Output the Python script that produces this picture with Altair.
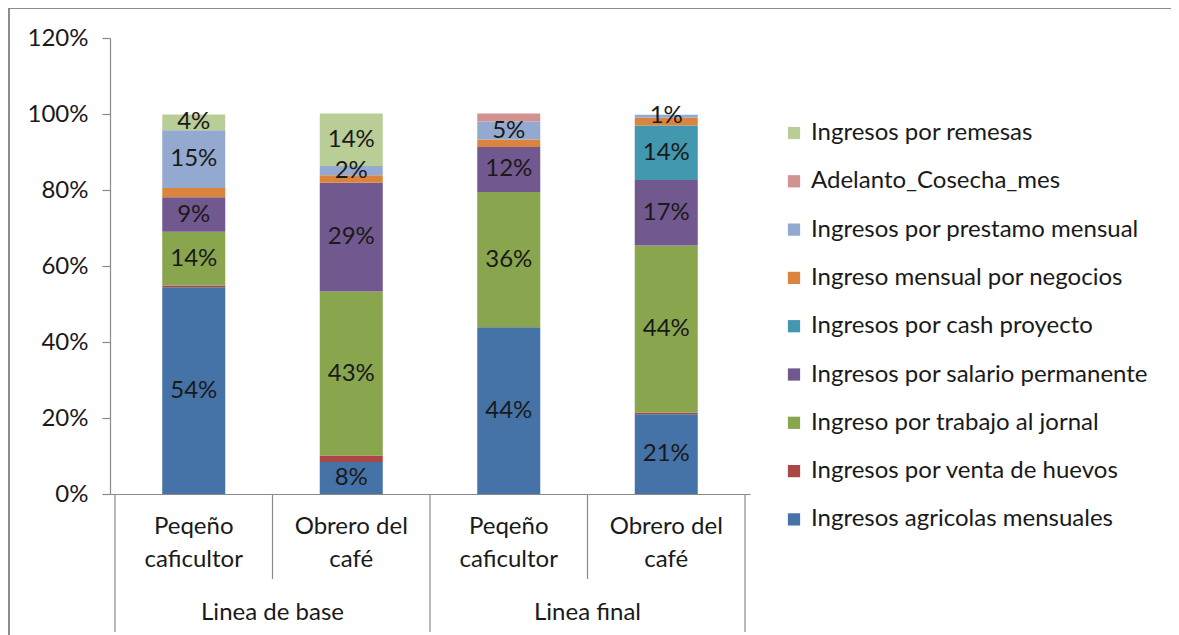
import altair as alt
import pandas as pd

series = [
    "Ingresos agricolas mensuales",
    "Ingresos por venta de huevos",
    "Ingreso por trabajo al jornal",
    "Ingresos por salario permanente",
    "Ingresos por cash proyecto",
    "Ingreso mensual por negocios",
    "Ingresos por prestamo mensual",
    "Adelanto_Cosecha_mes",
    "Ingresos por remesas",
]
colors = ["#4572A7", "#AA4643", "#89A54E", "#71588F", "#4198AF",
          "#DB843D", "#93A9CF", "#D19392", "#B9CD96"]
labeled = [True, False, True, True, True, False, True, False, True]

cat_line1 = ["Peqeño", "Obrero del", "Peqeño", "Obrero del"]
cat_line2 = ["caficultor", "café", "caficultor", "café"]
groups = ["Linea de base", "Linea final"]

# percent values per bar, bottom to top in series order
bar_pc_base = [54.4, 0.5, 14.1, 9.1, 0.0, 2.4, 15.2, 0.0, 4.2]
bar_oc_base = [8.4, 1.7, 43.2, 28.6, 0.0, 2.0, 2.4, 0.0, 13.8]
bar_pc_final = [43.9, 0.0, 35.6, 11.8, 0.0, 2.0, 4.7, 2.1, 0.0]
bar_oc_final = [21.0, 0.4, 44.0, 17.2, 14.4, 2.0, 0.8, 0.0, 0.0]

bars = [bar_pc_base, bar_oc_base, bar_pc_final, bar_oc_final]

rows = []
for b, vals in enumerate(bars):
    for i, v in enumerate(vals):
        rows.append({"pos": b + 0.5, "serie": series[i], "orden": i,
                     "v": v / 100.0, "lab": labeled[i] and v > 0})
df = pd.DataFrame(rows)

W, H = 640, 456
FONT = "Lato"
FS = 24

xscale = alt.Scale(domain=[0, 4], nice=False, zero=False)
yscale = alt.Scale(domain=[0, 1.2], nice=False)

base = alt.Chart(df).transform_stack(
    stack="v", groupby=["pos"], sort=[alt.SortField("orden")], as_=["y0", "y1"]
)

bar = base.mark_bar(width=63).encode(
    x=alt.X("pos:Q", scale=xscale,
            axis=alt.Axis(labels=False, ticks=False, title=None, grid=False,
                          domainColor="#8a8a8a", domainWidth=1.2)),
    y=alt.Y("y0:Q", scale=yscale,
            axis=alt.Axis(format="%", values=[0, 0.2, 0.4, 0.6, 0.8, 1.0, 1.2],
                          title=None, grid=False, tickSize=8, labelPadding=14,
                          labelFontSize=FS, labelFont=FONT, labelColor="#1a1a1a",
                          domainColor="#8a8a8a", tickColor="#8a8a8a",
                          domainWidth=1.2, tickWidth=1.2)),
    y2="y1:Q",
    color=alt.Color("serie:N",
                    scale=alt.Scale(domain=series[::-1], range=colors[::-1]),
                    legend=alt.Legend(title=None, orient="none", legendX=672, legendY=83,
                                      symbolType="square", symbolSize=150,
                                      symbolStrokeWidth=0, labelFont=FONT,
                                      labelFontSize=FS, labelColor="#1a1a1a",
                                      labelOffset=5, rowPadding=24.3,
                                      labelLimit=500)),
)

txt = base.transform_filter("datum.lab").transform_calculate(
    mid="(datum.y0 + datum.y1) / 2",
    t="format(datum.v, '.0%')",
).mark_text(font=FONT, fontSize=FS, color="#1a1a1a", baseline="middle").encode(
    x=alt.X("pos:Q", scale=xscale),
    y=alt.Y("mid:Q", scale=yscale),
    text="t:N",
)

cats = pd.DataFrame({"pos": [0.5, 1.5, 2.5, 3.5], "l1": cat_line1, "l2": cat_line2})
c1 = alt.Chart(cats).mark_text(font=FONT, fontSize=FS, color="#1a1a1a", baseline="middle").encode(
    x=alt.X("pos:Q", scale=xscale), y=alt.value(489), text="l1:N")
c2 = alt.Chart(cats).mark_text(font=FONT, fontSize=FS, color="#1a1a1a", baseline="middle").encode(
    x=alt.X("pos:Q", scale=xscale), y=alt.value(522), text="l2:N")

grp = pd.DataFrame({"pos": [1.0, 3.0], "g": groups})
g = alt.Chart(grp).mark_text(font=FONT, fontSize=FS, color="#1a1a1a", baseline="middle").encode(
    x=alt.X("pos:Q", scale=xscale), y=alt.value(575), text="g:N")

short_sep = pd.DataFrame({"sx": [1.0, 3.0]})
long_sep = pd.DataFrame({"sx": [0.0, 2.0, 4.0]})
s1 = alt.Chart(short_sep).mark_rule(color="#8a8a8a", strokeWidth=1.2).encode(
    x=alt.X("sx:Q", scale=xscale), y=alt.value(H), y2=alt.value(541))
s2 = alt.Chart(long_sep).mark_rule(color="#8a8a8a", strokeWidth=1.2).encode(
    x=alt.X("sx:Q", scale=xscale), y=alt.value(H), y2=alt.value(594))

border = alt.Chart(pd.DataFrame({"a": [0]})).mark_rect(
    fill=None, fillOpacity=0, stroke="#8c8c8c", strokeWidth=2
).encode(x=alt.value(-101), x2=alt.value(1065), y=alt.value(-30), y2=alt.value(610))

chart = alt.layer(border, s1, s2, bar, txt, c1, c2, g).properties(
    width=W, height=H,
    autosize=alt.AutoSizeParams(type="none"),
    padding={"left": 102, "top": 30, "right": 421, "bottom": 141},
).configure(background="white").configure_view(stroke=None)

chart.save("out.html", embed_options={"renderer": "svg", "actions": False})
